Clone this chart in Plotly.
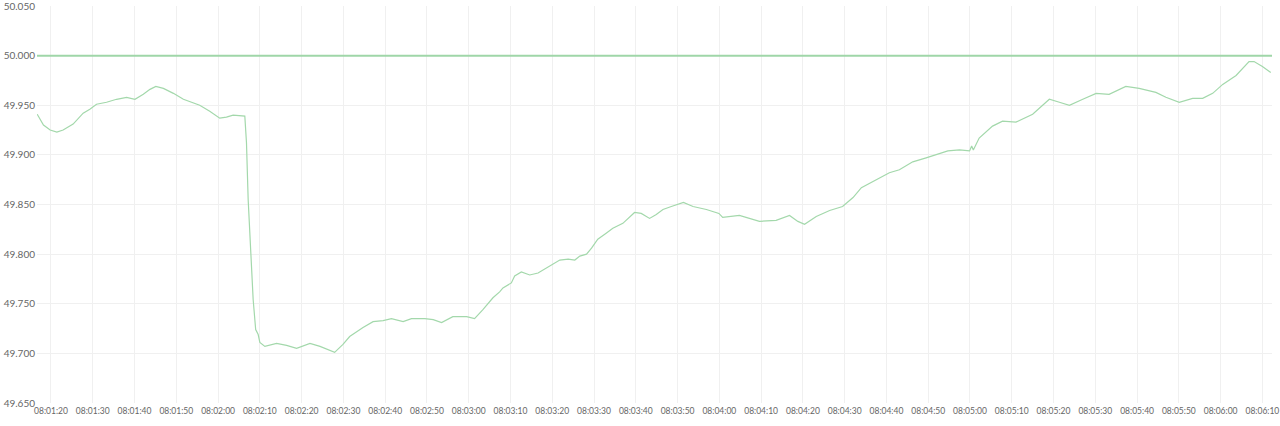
import plotly.graph_objects as go

DATE = "2024-01-01 "

times = [
    "08:01:16.7", "08:01:18.2", "08:01:19.8", "08:01:21.4", "08:01:22.9", "08:01:25.3",
    "08:01:27.7", "08:01:29.3", "08:01:30.9", "08:01:33.3", "08:01:35.7", "08:01:38.1",
    "08:01:40.1", "08:01:42.1", "08:01:43.7", "08:01:45.1", "08:01:46.9", "08:01:49.3",
    "08:01:51.7", "08:01:54.0", "08:01:55.6", "08:01:58.0", "08:02:00.4", "08:02:02.0",
    "08:02:03.6", "08:02:06.4", "08:02:06.8", "08:02:07.2", "08:02:07.8", "08:02:08.4",
    "08:02:09.0", "08:02:09.6", "08:02:10.0", "08:02:11.2", "08:02:14.0", "08:02:16.4",
    "08:02:18.8", "08:02:22.0", "08:02:24.4", "08:02:27.9", "08:02:29.9", "08:02:31.5",
    "08:02:34.7", "08:02:37.1", "08:02:39.5", "08:02:41.5", "08:02:44.3", "08:02:46.3",
    "08:02:49.5", "08:02:51.5", "08:02:53.5", "08:02:56.2", "08:02:59.5", "08:03:01.4",
    "08:03:03.4", "08:03:05.8", "08:03:07.4", "08:03:08.2", "08:03:10.2", "08:03:11.0",
    "08:03:12.6", "08:03:14.6", "08:03:16.6", "08:03:18.6", "08:03:21.8", "08:03:23.8",
    "08:03:25.4", "08:03:26.6", "08:03:28.2", "08:03:29.4", "08:03:30.9", "08:03:32.9",
    "08:03:34.5", "08:03:36.9", "08:03:38.5", "08:03:39.7", "08:03:41.3", "08:03:43.3",
    "08:03:44.9", "08:03:46.5", "08:03:48.5", "08:03:51.4", "08:03:53.7", "08:03:56.9",
    "08:03:59.9", "08:04:00.8", "08:04:04.8", "08:04:09.6", "08:04:13.6", "08:04:16.8",
    "08:04:18.8", "08:04:20.4", "08:04:23.2", "08:04:26.4", "08:04:29.5", "08:04:32.0",
    "08:04:34.0", "08:04:37.5", "08:04:40.7", "08:04:43.1", "08:04:46.3", "08:04:49.5",
    "08:04:51.9", "08:04:54.7", "08:04:57.5", "08:04:59.9", "08:05:00.4", "08:05:00.8",
    "08:05:02.2", "08:05:05.4", "08:05:07.8", "08:05:11.0", "08:05:15.0", "08:05:19.0",
    "08:05:21.4", "08:05:23.8", "08:05:27.0", "08:05:30.2", "08:05:33.3", "08:05:37.3",
    "08:05:40.5", "08:05:44.5", "08:05:46.9", "08:05:50.1", "08:05:53.3", "08:05:55.7",
    "08:05:58.1", "08:06:00.5", "08:06:03.7", "08:06:06.8", "08:06:08.0", "08:06:10.0",
    "08:06:12.0",
]

frequency = [
    49.941, 49.930, 49.925, 49.923, 49.925, 49.931,
    49.942, 49.946, 49.951, 49.953, 49.956, 49.958,
    49.956, 49.961, 49.966, 49.969, 49.967, 49.962,
    49.956, 49.952, 49.950, 49.944, 49.937, 49.938,
    49.940, 49.939, 49.912, 49.855, 49.804, 49.754,
    49.724, 49.719, 49.711, 49.707, 49.710, 49.708,
    49.705, 49.710, 49.707, 49.701, 49.709, 49.717,
    49.726, 49.732, 49.733, 49.735, 49.732, 49.735,
    49.735, 49.734, 49.731, 49.737, 49.737, 49.735,
    49.744, 49.756, 49.762, 49.766, 49.771, 49.778,
    49.782, 49.779, 49.781, 49.786, 49.794, 49.795,
    49.794, 49.798, 49.800, 49.806, 49.815, 49.821,
    49.826, 49.831, 49.837, 49.842, 49.841, 49.836,
    49.840, 49.845, 49.848, 49.852, 49.848, 49.845,
    49.841, 49.837, 49.839, 49.833, 49.834, 49.839,
    49.833, 49.830, 49.838, 49.844, 49.848, 49.857,
    49.867, 49.875, 49.882, 49.885, 49.893, 49.897,
    49.900, 49.904, 49.905, 49.904, 49.909, 49.905,
    49.917, 49.929, 49.934, 49.933, 49.941, 49.956,
    49.953, 49.950, 49.956, 49.962, 49.961, 49.969,
    49.967, 49.963, 49.958, 49.953, 49.957, 49.957,
    49.962, 49.971, 49.980, 49.994, 49.994, 49.989,
    49.983,
]

nominal = 50.0
x_range = ["08:01:16.65", "08:06:12.3"]
y_range = [49.65, 50.05]
tick_start = "08:01:20"

LINE_COLOR = "#a3d8ab"
GRID = "#f0f0f0"

fig = go.Figure()
fig.add_trace(go.Scatter(
    x=[DATE + t for t in times], y=frequency, mode="lines",
    line=dict(color=LINE_COLOR, width=1.2), showlegend=False, hoverinfo="skip",
))
fig.add_hline(y=nominal, line=dict(color="#9fd6a8", width=2))

fig.update_layout(
    width=1280, height=426,
    margin=dict(l=37, r=8, t=6, b=23, autoexpand=False),
    paper_bgcolor="white", plot_bgcolor="white",
    showlegend=False,
)
fig.update_xaxes(
    type="date", range=[DATE + v for v in x_range],
    tick0=DATE + tick_start, dtick=10000, tickformat="%H:%M:%S",
    showgrid=True, gridcolor=GRID, gridwidth=1, zeroline=False, showline=False,
    ticks="", tickfont=dict(family="Lato", size=8.5, color="#666666"),
    automargin=False, ticklabeloverflow="allow", ticklabelstandoff=1,
)
fig.update_yaxes(
    range=y_range, dtick=0.05, tick0=49.65, tickformat=".3f",
    showgrid=True, gridcolor=GRID, gridwidth=1, zeroline=False, showline=False,
    ticks="", tickfont=dict(family="Lato", size=10, color="#666666"),
    automargin=False, ticklabeloverflow="allow", ticklabelstandoff=1,
)

fig.write_html(
    "out.html",
    config={"displayModeBar": False},
    post_script="document.body.style.margin='0';document.body.style.overflow='hidden';",
)
